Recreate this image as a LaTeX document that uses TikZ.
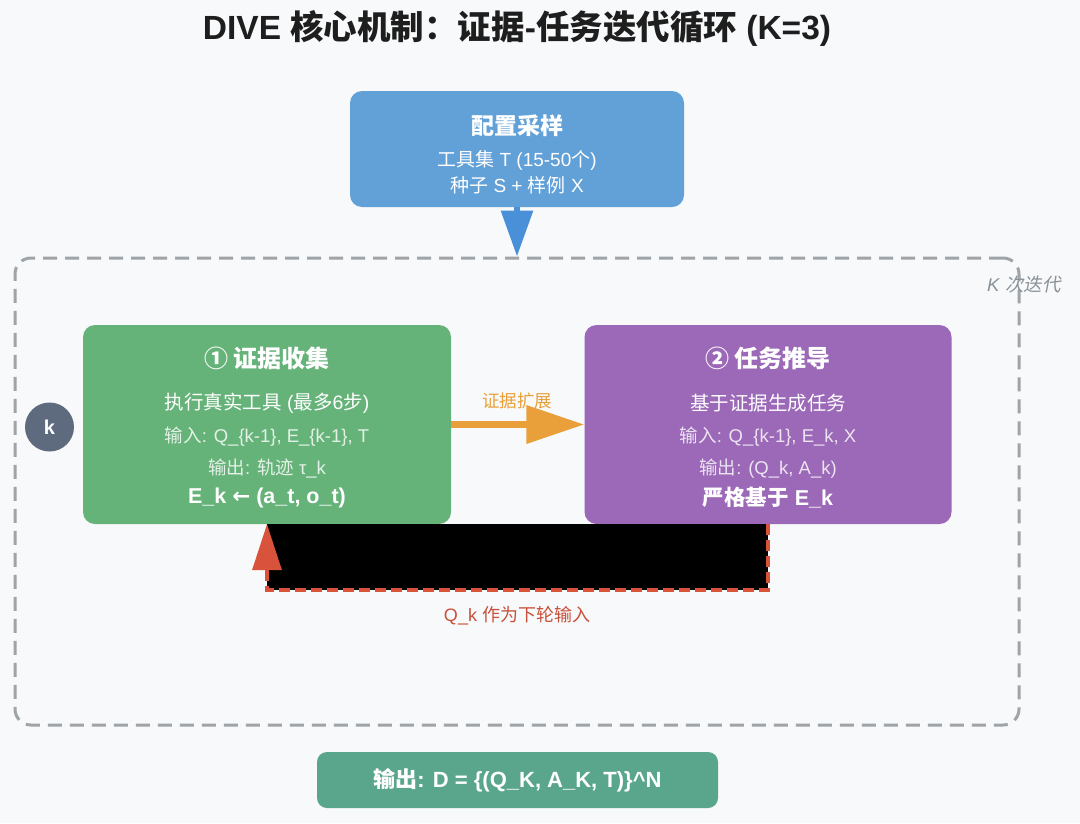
\documentclass[tikz,border=0pt]{standalone}
\usepackage{fontspec}
\setmainfont{Liberation Sans}
\newfontfamily\cjk{Noto Sans CJK SC}
\newfontfamily\cjkit{Noto Sans CJK SC}[FakeSlant=0.2]
\newfontfamily\djv{DejaVu Sans}
\newcommand\zh[1]{{\cjk #1}}
\newcommand\fs[1]{\fontsize{#1}{#1}\selectfont}
\usetikzlibrary{arrows.meta}
\definecolor{bgc}{HTML}{F7F9FA}
\definecolor{cfgblue}{HTML}{62A0D8}
\definecolor{arrblue}{HTML}{4A90D9}
\definecolor{dashgray}{HTML}{9EA4A8}
\definecolor{kgray}{HTML}{8A9399}
\definecolor{grn}{HTML}{66B37A}
\definecolor{prp}{HTML}{9B69B7}
\definecolor{orng}{HTML}{E9A03B}
\definecolor{redc}{HTML}{D9533C}
\definecolor{redt}{HTML}{C9503A}
\definecolor{kcirc}{HTML}{5E6B7E}
\definecolor{outg}{HTML}{5AA68D}
\definecolor{titlec}{HTML}{1E1E1E}
\begin{document}
\begin{tikzpicture}[x=1pt,y=-1pt,
  box/.style={rectangle, rounded corners=12pt, inner sep=0pt},
  txt/.style={inner sep=0pt, text=white},
  soft/.style={inner sep=0pt, text=white, text opacity=0.82}]
\fill[bgc] (0,0) rectangle (1080,823);
\useasboundingbox (0,0) rectangle (1080,823);

% title
\node[inner sep=0pt, text=titlec, font=\fs{33.5}\bfseries] (title) at (517,28)
  {DIVE \zh{核心机制：证据}-\zh{任务迭代循环} (K=3)};

% dashed loop frame
\node[draw=dashgray, dash pattern=on 14pt off 8pt, line width=3pt, rounded corners=16pt,
  minimum width=1004pt, minimum height=467pt, inner sep=0pt] (loop) at (517,491.5) {};
\node[inner sep=0pt, text=kgray, font=\fs{18.5}] (klab) at (1024,284) {\textit{K} {\cjkit 次迭代}};

% config box
\node[box, fill=cfgblue, minimum width=334pt, minimum height=116pt] (cfg) at (517,149) {};
\node[txt, font=\fs{23}\bfseries] (cfgT) at (517,126) {\zh{配置采样}};
\node[txt, font=\fs{19}] (cfgA) at (517,160) {\zh{工具集} T (15-50\zh{个})};
\node[txt, font=\fs{19}] (cfgB) at (517,185) {\zh{种子} S + \zh{样例} X};
\draw[arrblue, line width=6pt, -{Triangle[length=46pt,width=31pt]}] (cfg.south) -- (loop.north);

% feedback (black fill + red dashed)
\node[box, fill=grn, minimum width=368pt, minimum height=199pt] (gbox) at (267,424.5) {};
\node[box, fill=prp, minimum width=367pt, minimum height=199pt] (pbox) at (768,424.5) {};
\fill[black] (gbox.south) rectangle (pbox.south |- 0,590);
\draw[redc, line width=3.5pt, dash pattern=on 11pt off 5pt, -{Triangle[length=46pt,width=29pt]}]
  (pbox.south) -- ++(0,66) -| (gbox.south);
\node[inner sep=0pt, text=redt, font=\fs{18}] (qlab) at (517,616) {Q\_k \zh{作为下轮输入}};

% green box text
\node[txt, font=\fs{24}\bfseries] (gT) at (267,358) {\zh{① 证据收集}};
\node[txt, font=\fs{19.5}] (g1) at (267,403) {\zh{执行真实工具} (\zh{最多}6\zh{步})};
\node[soft, font=\fs{18.5}] (g2) at (267,437) {\zh{输入}: Q\_\{k-1\}, E\_\{k-1\}, T};
\node[soft, font=\fs{18.5}] (g3) at (267,469) {\zh{输出}: \zh{轨迹} τ\_k};
\node[txt, font=\fs{21.5}\bfseries] (g4) at (267,498) {E\_k {\djv ←} (a\_t, o\_t)};

% purple box text
\node[txt, font=\fs{24}\bfseries] (pT) at (768,358) {\zh{② 任务推导}};
\node[txt, font=\fs{19.5}] (p1) at (768,403) {\zh{基于证据生成任务}};
\node[soft, font=\fs{18.5}] (p2) at (768,437) {\zh{输入}: Q\_\{k-1\}, E\_k, X};
\node[soft, font=\fs{18.5}] (p3) at (768,469) {\zh{输出}: (Q\_k, A\_k)};
\node[txt, font=\fs{21.5}\bfseries] (p4) at (768,498) {\zh{严格基于} E\_k};

% orange arrow
\node[inner sep=0pt, text=orng, font=\fs{17.5}] (olab) at (517,401) {\zh{证据扩展}};
\draw[orng, line width=7pt, -{Triangle[length=58pt,width=37pt]}] (gbox.east) -- (pbox.west);

% k circle
\node[circle, fill=kcirc, minimum size=49pt, inner sep=0pt, text=white, font=\fs{20}\bfseries] (kc) at (49.5,427) {k};

% output box
\node[box, rounded corners=10pt, fill=outg, minimum width=401pt, minimum height=56pt] (out) at (517.5,780) {};
\node[txt, font=\fs{22}\bfseries] (outT) at (517.5,780) {\zh{输出}: D = \{(Q\_K, A\_K, T)\}\^{}N};
\end{tikzpicture}
\end{document}
